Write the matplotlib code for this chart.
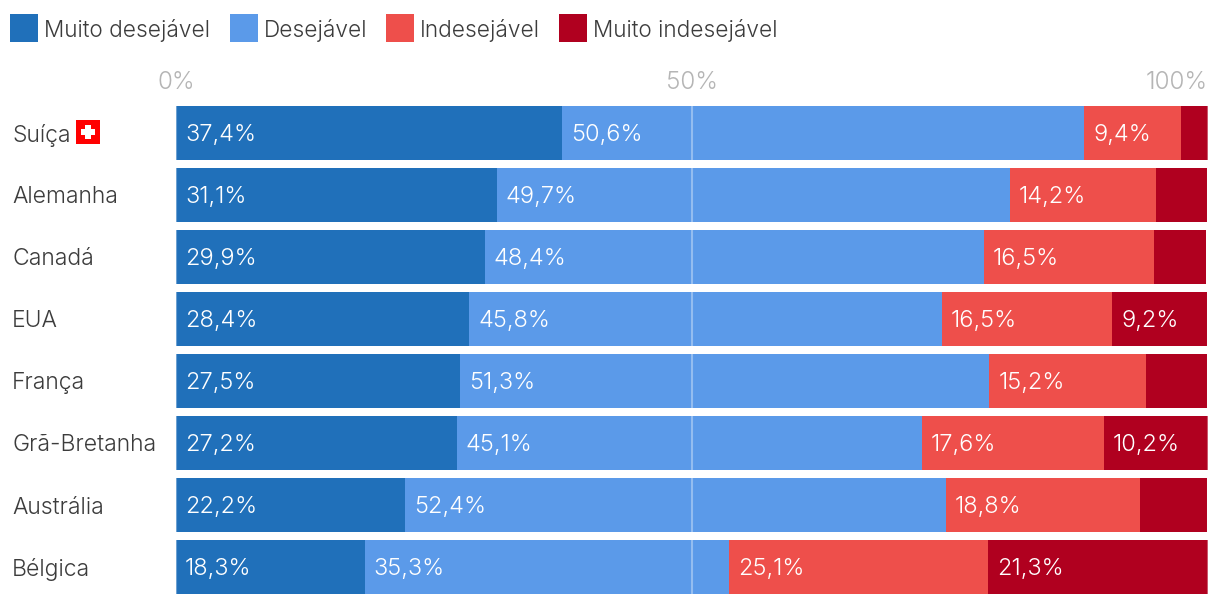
import matplotlib
matplotlib.use('Agg')
import matplotlib.pyplot as plt
from matplotlib.patches import Rectangle

countries = ['Suíça', 'Alemanha', 'Canadá', 'EUA', 'França', 'Grã-Bretanha', 'Austrália', 'Bélgica']
muito_desejavel = [37.4, 31.1, 29.9, 28.4, 27.5, 27.2, 22.2, 18.3]
desejavel = [50.6, 49.7, 48.4, 45.8, 51.3, 45.1, 52.4, 35.3]
indesejavel = [9.4, 14.2, 16.5, 16.5, 15.2, 17.6, 18.8, 25.1]
muito_indesejavel = [2.6, 4.9, 5.0, 9.2, 5.9, 10.2, 6.5, 21.3]
series_names = ['Muito desejável', 'Desejável', 'Indesejável', 'Muito indesejável']
ticks = [0, 50, 100]
tick_labels = ['0%', '50%', '100%']

colors = ['#2070ba', '#5b9ae9', '#ee4f4b', '#b0001f']
W, H = 1220, 606
plt.rcParams['font.family'] = ['Inter', 'DejaVu Sans']
plt.rcParams['font.weight'] = 300

fig = plt.figure(figsize=(W / 100, H / 100), dpi=100)
ax = fig.add_axes([176 / W, 1 - 598 / H, 1032 / W, 496 / H])
ax.set_xlim(0, 100)
ax.set_ylim(7.5, -0.5)

series = [muito_desejavel, desejavel, indesejavel, muito_indesejavel]
left = [0] * len(countries)
for vals, col in zip(series, colors):
    ax.barh(range(len(countries)), vals, left=left, height=54 / 62, color=col, linewidth=0)
    for i, v in enumerate(vals):
        if v >= 9:
            ax.annotate(f'{v:.1f}%'.replace('.', ','), (left[i], i), xytext=(9, -2),
                        textcoords='offset pixels', va='center', ha='left',
                        color='white', fontsize=17)
    left = [a + b for a, b in zip(left, vals)]

for t in ticks:
    ax.axvline(t, color='white', alpha=0.35, lw=1.5, zorder=3)

ax.xaxis.tick_top()
ax.set_xticks(ticks)
ax.set_xticklabels(tick_labels, color='#b5b5b5', fontsize=17.5)
ax.get_xticklabels()[2].set_ha('right')
ax.tick_params(axis='x', length=0, pad=6)
ax.set_yticks(range(len(countries)))
ax.set_yticklabels(countries, color='#3c3c3c', fontsize=16.5, ha='left')
ax.tick_params(axis='y', length=0, pad=164 * 0.72)
for s in ax.spines.values():
    s.set_visible(False)

# legend, placed by hand
xs = [10, 230, 386, 559]
for x, name, col in zip(xs, series_names, colors):
    fig.patches.append(Rectangle((x / W, 1 - 42 / H), 28 / W, 28 / H, transform=fig.transFigure, color=col, lw=0))
    fig.text((x + 34) / W, 1 - 28 / H, name, color='#3c3c3c', fontsize=16.3, va='center_baseline')

# swiss flag next to the first label
fig.patches.append(Rectangle((76 / W, 1 - 144 / H), 24 / W, 24 / H, transform=fig.transFigure, color='#ff0000', lw=0))
fig.patches.append(Rectangle((81 / W, 1 - 135 / H), 14 / W, 6 / H, transform=fig.transFigure, color='white', lw=0))
fig.patches.append(Rectangle((85 / W, 1 - 139 / H), 6 / W, 14 / H, transform=fig.transFigure, color='white', lw=0))

fig.savefig('out.png', dpi=100)
